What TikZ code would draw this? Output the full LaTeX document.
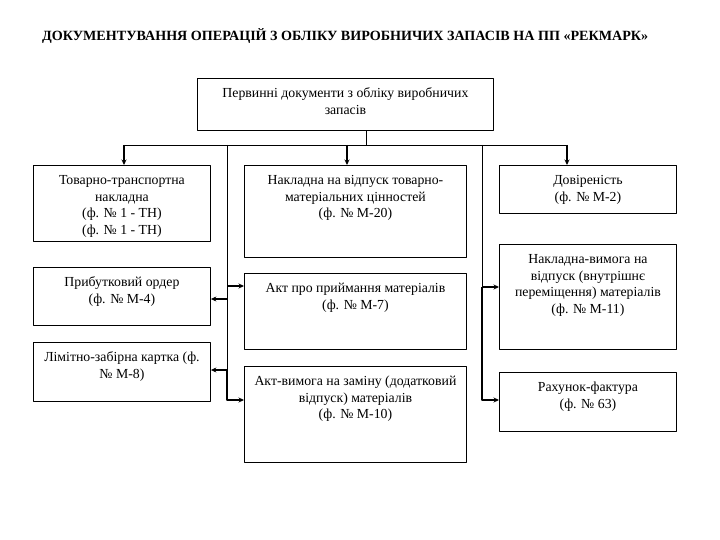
\documentclass[tikz,border=0pt]{standalone}
\usepackage{fontspec}
\setmainfont{Liberation Serif}
\usetikzlibrary{arrows.meta}
\tikzset{
  doc/.style={draw,line width=0.9pt,anchor=north west,inner sep=0pt,font=\fontsize{13.8}{16.5}\selectfont},
  arr/.style={-{Stealth[length=5.5pt,width=5pt]},line width=1.3pt},
  bus/.style={line width=0.9pt}
}
% box: name, x, y, width, height, text
\newcommand\docbox[6]{\node[doc] (#1) at (#2,#3) {\parbox[b][#5pt][t]{#4pt}{\centering\rule{0pt}{19.5pt}#6}};}
\begin{document}
\begin{tikzpicture}[x=1pt,y=-1pt,line join=round]
				\useasboundingbox (0,0) rectangle (720,540);
				\node[anchor=west,inner sep=0pt,font=\fontsize{14.1}{16}\selectfont\bfseries] (title) at (42,36)
					{ДОКУМЕНТУВАННЯ ОПЕРАЦІЙ З ОБЛІКУ ВИРОБНИЧИХ ЗАПАСІВ НА ПП «РЕКМАРК»};
				\docbox{top}{197}{78}{296}{52}{Первинні документи з обліку виробничих\\запасів}
				% left column
				\docbox{L1}{33}{165}{177}{76}{Товарно-транспортна\\накладна\\(ф. № 1 - ТН)\\(ф. № 1 - ТН)}
				\docbox{L2}{33}{267}{177}{58}{Прибутковий ордер\\(ф. № М-4)}
				\docbox{L3}{33}{342}{177}{59}{Лімітно-забірна картка (ф.\\№ М-8)}
				% middle column
				\docbox{M1}{244}{165}{222}{92}{Накладна на відпуск товарно-\\матеріальних цінностей\\(ф. № М-20)}
				\docbox{M2}{244}{273}{222}{76}{Акт про приймання матеріалів\\(ф. № М-7)}
				\docbox{M3}{244}{366}{222}{96}{Акт-вимога на заміну (додатковий\\відпуск) матеріалів\\(ф. № М-10)}
				% right column
				\docbox{R1}{499}{165}{177}{48}{Довіреність\\(ф. № М-2)}
				\docbox{R2}{499}{244}{177}{105}{Накладна-вимога на\\відпуск (внутрішнє\\переміщення) матеріалів\\(ф. № М-11)}
				\docbox{R3}{499}{372}{177}{59}{Рахунок-фактура\\(ф. № 63)}
				% bus
				\coordinate (s) at (366,145);
				\coordinate (hl) at (124,145);
				\coordinate (hm) at (347,145);
				\coordinate (hr) at (567,145);
				\coordinate (vl) at (227,145);
				\coordinate (vr) at (482,145);
				\draw[bus] (s |- top.south)--(s) (hl)--(hr);
				\draw[arr] (hl)--(hl |- L1.north);
				\draw[arr] (hm)--(hm |- M1.north);
				\draw[arr] (hr)--(hr |- R1.north);
				\draw[bus] (vl)--(227,370) (vr)--(482,287);
				\draw[arr] (227,299)--(L2.east |- 227,299);
				\draw[arr] (227,286)--(M2.west |- 227,286);
				\draw[arr] (227,370)--(L3.east |- 227,370);
				\draw[arr] (227,370)--(227,400)--(M3.west |- 227,400);
				\draw[arr] (482,287)--(R2.west |- 482,287);
				\draw[arr] (482,287)--(482,400)--(R3.west |- 482,400);
			\end{tikzpicture}
\end{document}
